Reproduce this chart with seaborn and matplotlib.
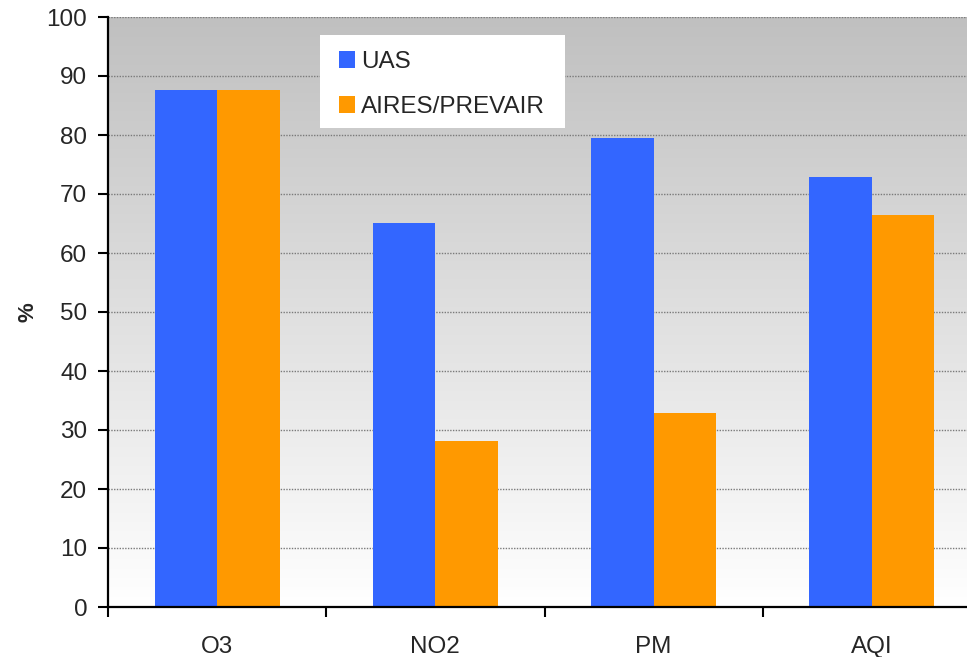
import numpy as np
import pandas as pd
import matplotlib
matplotlib.use("Agg")
import matplotlib.pyplot as plt
from matplotlib.patches import Patch, Rectangle
import seaborn as sns

categories = ["O3", "NO2", "PM", "AQI"]
series_names = ["UAS", "AIRES/PREVAIR"]
uas_values = [87.6, 65.1, 79.5, 72.9]
aires_values = [87.6, 28.2, 32.9, 66.4]
y_ticks = [0, 10, 20, 30, 40, 50, 60, 70, 80, 90, 100]

colors = {"UAS": "#3366FF", "AIRES/PREVAIR": "#FF9900"}

df = pd.DataFrame({
    "category": categories * 2,
    "series": [series_names[0]] * len(categories) + [series_names[1]] * len(categories),
    "value": uas_values + aires_values,
})

sns.set_style("white")
plt.rcParams["font.family"] = ["Liberation Sans", "DejaVu Sans"]

W, H = 967, 657
fig = plt.figure(figsize=(W / 100, H / 100), dpi=100)
# plot area runs slightly past the right edge of the figure
ax = fig.add_axes([108 / W, 50 / H, 873 / W, 590 / H])

# gray-to-white vertical gradient behind the bars
grad = np.linspace(1.0, 0.0, 256).reshape(-1, 1)
ax.imshow(grad, extent=(-0.5, 3.5, 0, 100), aspect="auto",
          cmap=matplotlib.colors.LinearSegmentedColormap.from_list(
              "bg", ["#FFFFFF", "#C0C0C0"]),
          vmin=0, vmax=1, zorder=0, interpolation="bilinear")

sns.barplot(data=df, x="category", y="value", hue="series",
            palette=colors, width=0.573, gap=0, saturation=1,
            edgecolor="none", linewidth=0, ax=ax, zorder=3, legend=False)

ax.set_xlim(-0.5, 3.5)
ax.set_ylim(0, 100)
ax.set_yticks(y_ticks)
ax.set_yticklabels([str(t) for t in y_ticks], fontsize=17.5)
ax.yaxis.grid(True, color="#7a7a7a", linestyle=(0, (1, 1)), linewidth=1.0)
for gl in ax.get_ygridlines():
    gl.set_zorder(1)

ax.set_xticks(range(len(categories)))
ax.set_xticklabels(categories, fontsize=17.5)
ax.set_xticks([-0.5, 0.5, 1.5, 2.5, 3.5], minor=True)
ax.tick_params(axis="x", which="major", bottom=True, length=0, pad=21)
ax.tick_params(axis="x", which="minor", bottom=True, length=7, width=1.5,
               color="black", direction="out")
ax.tick_params(axis="y", which="major", left=True, length=7, width=1.5,
               color="black", direction="out", pad=8)

ax.set_xlabel("")
ax.set_ylabel("%", fontsize=16, fontweight="bold", labelpad=6)

for side in ["top", "right"]:
    ax.spines[side].set_visible(False)
for side in ["left", "bottom"]:
    ax.spines[side].set_color("black")
    ax.spines[side].set_linewidth(1.6)
    ax.spines[side].set_zorder(5)

# white legend panel
panel = Rectangle((320 / W, 1 - 128 / H), 245 / W, 93 / H, transform=fig.transFigure,
                  facecolor="white", edgecolor="none", zorder=5.5, clip_on=False)
ax.add_patch(panel)

handles = [Patch(facecolor=colors[n], edgecolor="none", label=n) for n in series_names]
leg = ax.legend(handles=handles, loc="upper left",
                bbox_to_anchor=(339 / W, 1 - 51 / H), bbox_transform=fig.transFigure,
                frameon=False, fontsize=17.5, handlelength=0.66, handleheight=0.66,
                handletextpad=0.25, labelspacing=0.95, borderpad=0, borderaxespad=0)
leg.set_zorder(6)

fig.savefig("out.png", dpi=100)
